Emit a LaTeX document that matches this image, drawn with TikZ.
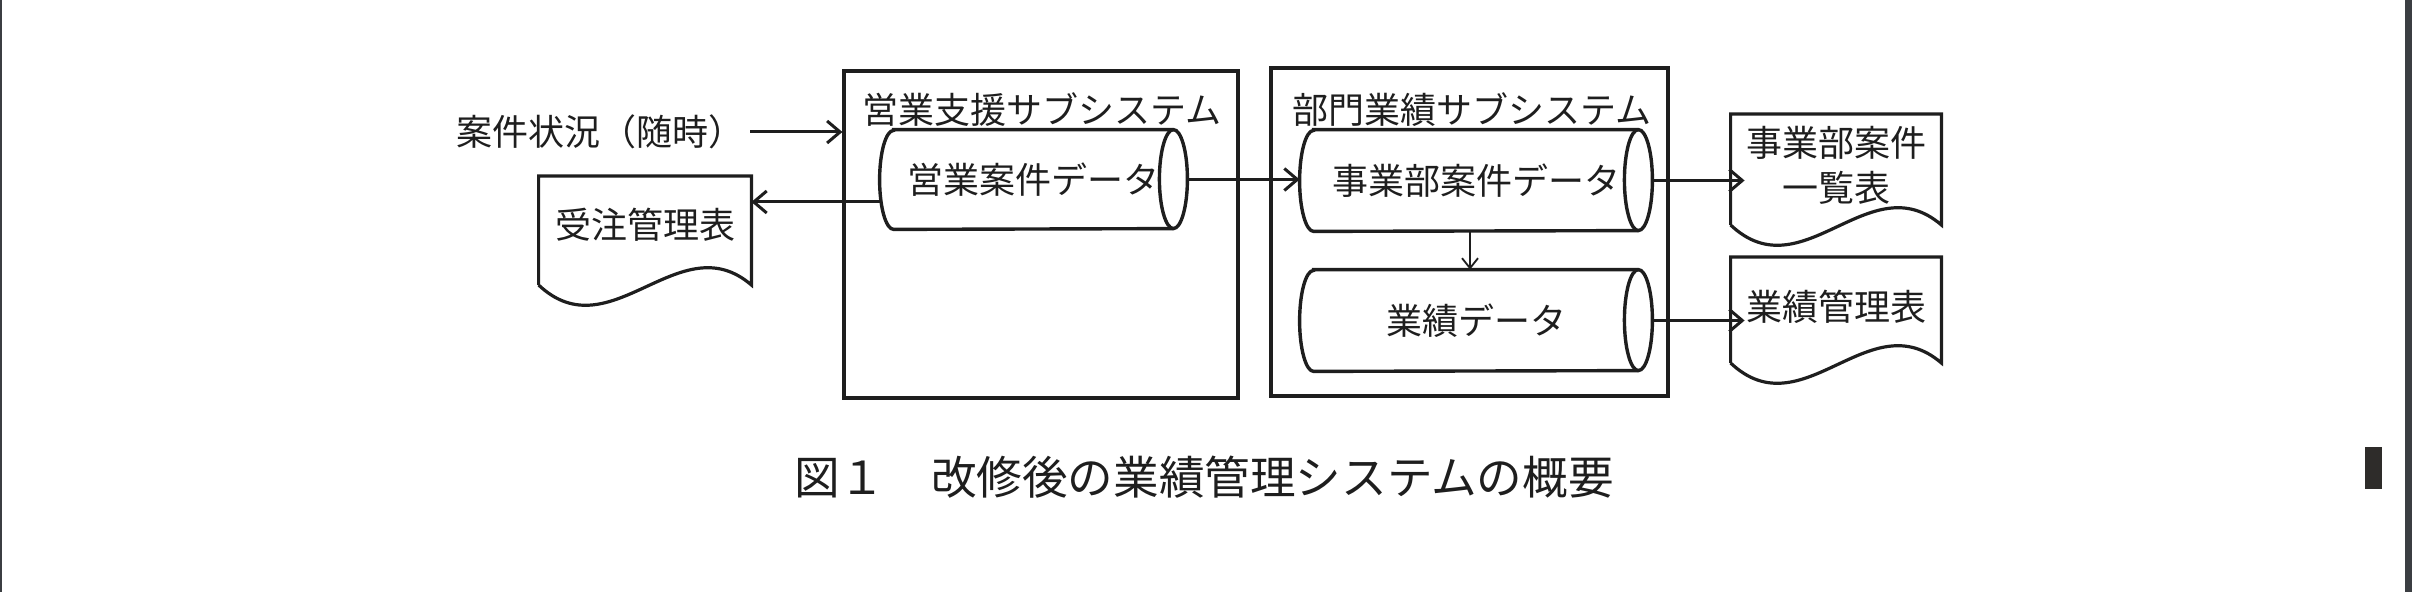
\documentclass[tikz,border=0pt]{standalone}
\usepackage{fontspec}
\setmainfont{Noto Sans CJK JP}
\usetikzlibrary{arrows.meta,calc}
\definecolor{edgegray}{HTML}{3B3E42}
\definecolor{barblack}{HTML}{2E2C2A}
\definecolor{ink}{HTML}{1E1E1E}
\tikzset{
 txt/.style={font=\fontsize{18pt}{22.5pt}\selectfont, inner sep=3pt, text=ink},
 sysbox/.style={draw=ink, line width=1.6pt, inner sep=0pt},
 cylnode/.style={txt, inner sep=0pt},
 cylline/.style={draw=ink, line width=1.7pt},
 docnode/.style={txt, align=center, inner sep=0pt},
 docline/.style={draw=ink, line width=1.6pt},
 arr/.style={draw=ink, line width=1.5pt, -{Straight Barb[length=6.5pt,width=11pt]}},
 thinarr/.style={draw=ink, line width=0.9pt, -{Straight Barb[length=5pt,width=8pt]}},
 captionnode/.style={font=\fontsize{22.8pt}{26pt}\selectfont, inner sep=0pt, text=ink},
}
\newcommand\cylout[2]{%
 \draw[cylline] (#1.north west) -- (#1.north east)
   arc[start angle=90,end angle=-90,x radius=7pt,y radius=#2]
   -- (#1.south west)
   arc[start angle=270,end angle=90,x radius=7pt,y radius=#2] -- cycle;
 \draw[cylline] (#1.north east) arc[start angle=90,end angle=270,x radius=7pt,y radius=#2];}
\newcommand\docout[3]{%
 \draw[docline] ([shift={(0,#3)}]#1.west) -- ([shift={(0,-#2)}]#1.west)
   -- ([shift={(0,-#2)}]#1.east) -- ([shift={(0,#3)}]#1.east)
   .. controls +(-72,-62) and +(72,68) .. ([shift={(0,#3)}]#1.west);}
\begin{document}
\begin{tikzpicture}[x=0.5pt,y=-0.5pt]
\useasboundingbox (0,0) rectangle (2412,592);
% page edges and scan mark
\fill[edgegray] (0,0) rectangle (2,592);
\fill[edgegray] (2405,0) rectangle (2412,592);
\fill[barblack] (2365,447) rectangle (2382,489);

% subsystem boxes
\node[sysbox, minimum width=197pt, minimum height=163.5pt] (box1) at (1041,234.5) {};
\node[sysbox, minimum width=198.5pt, minimum height=164pt] (box2) at (1469.5,232) {};
\node[txt] (t1) at (1042,110) {営業支援サブシステム};
\node[txt] (t2) at (1472,110) {部門業績サブシステム};

% data stores
\node[cylnode, minimum width=139.5pt, minimum height=49.5pt] (cyl1) at (1033.5,179.5) {営業案件データ};
\node[cylnode, minimum width=162pt, minimum height=50.5pt] (cyl2) at (1476,180.5) {事業部案件データ};
\node[cylnode, minimum width=162pt, minimum height=50.5pt] (cyl3) at (1476,320.5) {業績データ};
\cylout{cyl1}{24.75pt}
\cylout{cyl2}{25.25pt}
\cylout{cyl3}{25.25pt}

% input and documents
\node[txt] (status) at (600,132) {案件状況（随時）};
\node[docnode, minimum width=106pt] (doc1) at (645,225) {受注管理表};
\docout{doc1}{49}{60}
\node[docnode, minimum width=105pt] (doc2) at (1836,165.5) {事業部案件\\一覧表};
\docout{doc2}{51.5}{59.5}
\node[docnode, minimum width=105pt] (doc3) at (1836,307) {業績管理表};
\docout{doc3}{50}{56}

% connectors
\draw[arr] (status.east) -- (status.east -| box1.west);
\coordinate (a1) at ([shift={(-12.5,22.5)}]cyl1.west);
\draw[arr] (a1) -- (a1 -| doc1.east);
\coordinate (a2) at ([xshift=7pt]cyl1.east);
\draw[arr] (a2) -- ([xshift=-7pt]cyl2.west |- a2);
\draw[arr] ([xshift=7pt]cyl2.east) -- ([xshift=7pt]cyl2.east -| doc2.west);
\draw[arr] ([xshift=7pt]cyl3.east) -- ([xshift=7pt]cyl3.east -| doc3.west);
\draw[thinarr] ([xshift=-3pt]cyl2.south) -- ([xshift=-3pt]cyl3.north);

% caption
\node[captionnode] (cap) at (1204,477) {図１　改修後の業績管理システムの概要};
\end{tikzpicture}
\end{document}
